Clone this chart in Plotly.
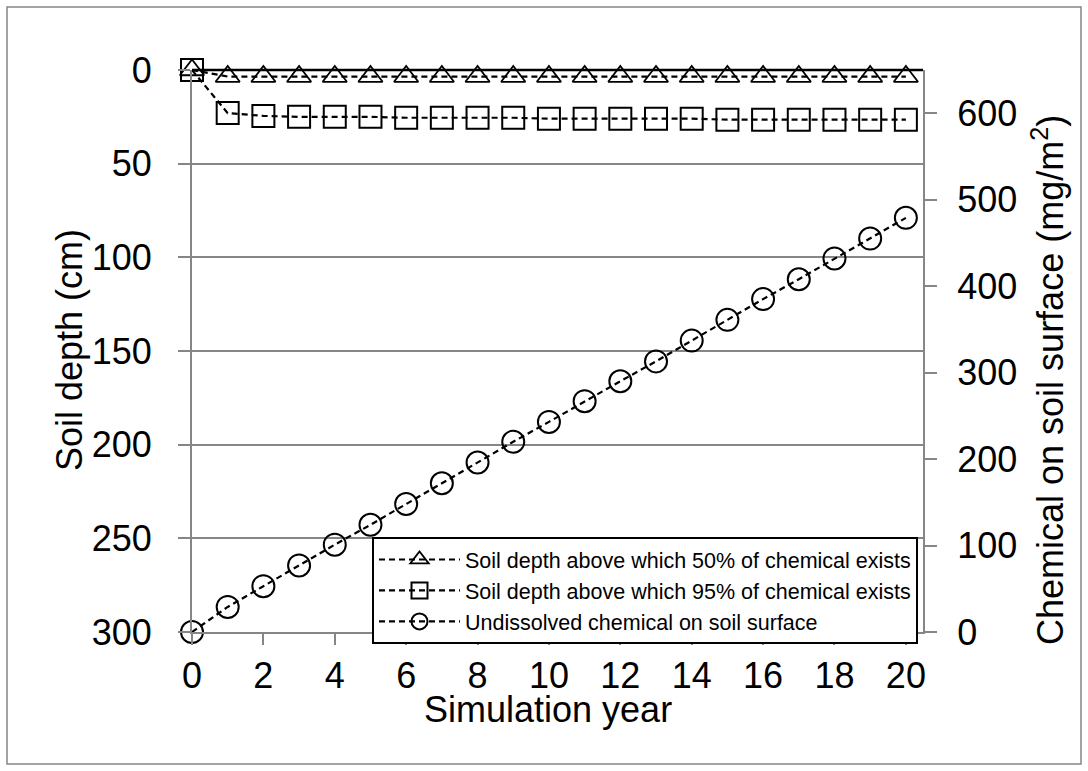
import plotly.graph_objects as go

years = list(range(0, 21))
depth50 = [0] + [3.5] * 20
depth95 = [0, 23, 24.5, 25, 25, 25, 25.5, 25.5, 25.5, 25.5, 26, 26, 26, 26, 26,
           26.5, 26.5, 26.5, 26.5, 26.5, 26.5]
surface = [0, 29, 53, 77, 101, 124, 148, 172, 196, 220, 243, 267, 290, 313, 337,
           361, 385, 408, 432, 455, 479]

names = ["Soil depth above which 50% of chemical exists",
         "Soil depth above which 95% of chemical exists",
         "Undissolved chemical on soil surface"]

FONT = "Liberation Sans, Arial, sans-serif"
GRAY = "#868686"
TICK_SIZE = 36
TITLE_SIZE = 36

fig = go.Figure()
dash = "6px,4px"
fig.add_trace(go.Scatter(
    x=years, y=depth50, name=names[0], mode="lines+markers", cliponaxis=False,
    line=dict(color="black", width=2.2, dash=dash),
    marker=dict(symbol="triangle-up-open", size=21, color="black", line=dict(width=1.8, color="black")),
    yaxis="y"))
fig.add_trace(go.Scatter(
    x=years, y=depth95, name=names[1], mode="lines+markers", cliponaxis=False,
    line=dict(color="black", width=2.2, dash=dash),
    marker=dict(symbol="square-open", size=22, color="black", line=dict(width=2, color="black")),
    yaxis="y"))
fig.add_trace(go.Scatter(
    x=years, y=surface, name=names[2], mode="lines+markers", cliponaxis=False,
    line=dict(color="black", width=2.2, dash=dash),
    marker=dict(symbol="circle-open", size=22, color="black", line=dict(width=2, color="black")),
    yaxis="y2"))

L, R, T, B = 192, 165, 70, 139
W, H = 1088, 771
pw, ph = W - L - R, H - T - B

def px2x(px):
    return (px - L) / pw

def py2y(py):
    return (H - B - py) / ph

fig.update_layout(
    width=W, height=H,
    margin=dict(l=L, r=R, t=T, b=B),
    paper_bgcolor="white", plot_bgcolor="white",
    font=dict(family=FONT, color="black"),
    showlegend=True,
    legend=dict(
        x=px2x(372), y=py2y(537), xanchor="left", yanchor="top",
        bgcolor="white", bordercolor="black", borderwidth=2,
        font=dict(size=21.5, family=FONT, color="black"),
        tracegroupgap=0, itemwidth=81,
    ),
    xaxis=dict(
        range=[0, 20.48], tick0=0, dtick=2, showgrid=False, zeroline=False,
        showline=True, linecolor=GRAY, linewidth=2,
        ticks="outside", ticklen=11, tickwidth=2, tickcolor=GRAY,
        tickfont=dict(size=TICK_SIZE, family=FONT, color="black"),
        ticklabelstandoff=0,
    ),
    yaxis=dict(
        range=[300, 0], tick0=0, dtick=50, showgrid=True, gridcolor=GRAY, gridwidth=1.5,
        zeroline=False, showline=True, linecolor=GRAY, linewidth=2,
        ticks="outside", ticklen=12, tickwidth=2, tickcolor=GRAY,
        tickfont=dict(size=TICK_SIZE, family=FONT, color="black"),
        ticklabelstandoff=19,
    ),
    yaxis2=dict(
        range=[0, 650], tick0=0, dtick=100, overlaying="y", side="right",
        showgrid=False, zeroline=False, showline=True, linecolor=GRAY, linewidth=2,
        ticks="outside", ticklen=12, tickwidth=2, tickcolor=GRAY,
        tickfont=dict(size=TICK_SIZE, family=FONT, color="black"),
        ticklabelstandoff=13,
    ),
    annotations=[
        dict(text="Simulation year", x=px2x(548), y=py2y(710), xref="paper", yref="paper",
             showarrow=False, font=dict(size=TITLE_SIZE, family=FONT, color="black"),
             xanchor="center", yanchor="middle"),
        dict(text="Soil depth (cm)", x=px2x(69), y=py2y(350), xref="paper", yref="paper",
             showarrow=False, textangle=-90, font=dict(size=TITLE_SIZE, family=FONT, color="black"),
             xanchor="center", yanchor="middle"),
        dict(text="Chemical on soil surface (mg/m<sup>2</sup>)", x=px2x(1048), y=py2y(380),
             xref="paper", yref="paper",
             showarrow=False, textangle=-90, font=dict(size=TITLE_SIZE, family=FONT, color="black"),
             xanchor="center", yanchor="middle"),
    ],
    shapes=[
        dict(type="line", xref="paper", yref="paper", x0=0, x1=1, y0=1, y1=1,
             line=dict(color="black", width=2.5)),
        dict(type="rect", xref="paper", yref="paper",
             x0=px2x(7), x1=px2x(1081), y0=py2y(7), y1=py2y(764),
             line=dict(color=GRAY, width=1.5)),
    ],
)

fig.write_html("out.html", config={"displayModeBar": False},
               post_script="document.body.style.margin='0px';")
